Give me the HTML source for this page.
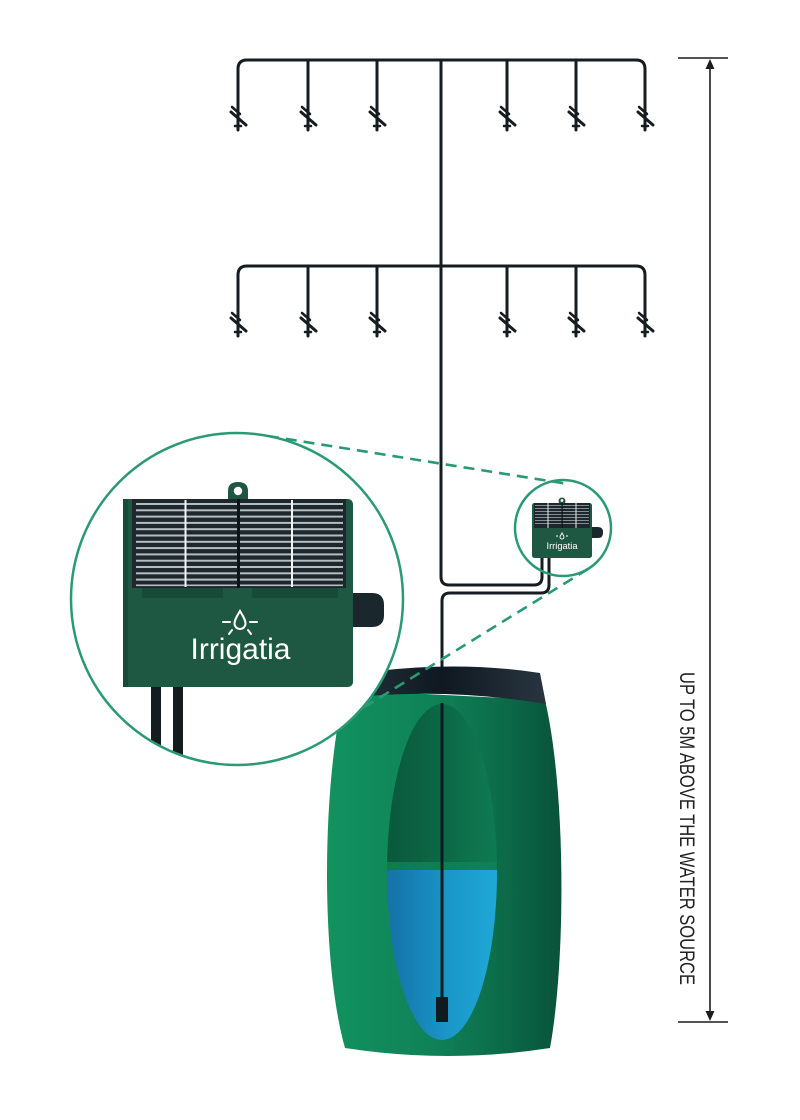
<!DOCTYPE html>
<html>
<head>
<meta charset="utf-8">
<style>
  html,body{margin:0;padding:0;background:#ffffff;}
  body{width:800px;height:1120px;overflow:hidden;}
  svg{display:block;}
</style>
</head>
<body>
<svg width="800" height="1120" viewBox="0 0 800 1120" xmlns="http://www.w3.org/2000/svg">
  <defs>
    <linearGradient id="barrelG" x1="0" y1="0" x2="1" y2="0">
      <stop offset="0" stop-color="#12925f"/>
      <stop offset="0.45" stop-color="#0f8258"/>
      <stop offset="0.75" stop-color="#0c6b49"/>
      <stop offset="1" stop-color="#09523a"/>
    </linearGradient>
    <linearGradient id="innerG" x1="0" y1="0" x2="1" y2="0">
      <stop offset="0" stop-color="#0a573c"/>
      <stop offset="0.5" stop-color="#0c6947"/>
      <stop offset="1" stop-color="#0f7f56"/>
    </linearGradient>
    <linearGradient id="waterG" x1="0" y1="0" x2="1" y2="0">
      <stop offset="0" stop-color="#146ea4"/>
      <stop offset="0.55" stop-color="#1a98c9"/>
      <stop offset="1" stop-color="#21acd9"/>
    </linearGradient>
    <linearGradient id="lidG" x1="0" y1="0" x2="1" y2="0">
      <stop offset="0" stop-color="#22303a"/>
      <stop offset="0.45" stop-color="#0f1820"/>
      <stop offset="1" stop-color="#283540"/>
    </linearGradient>
    <clipPath id="ellClip">
      <ellipse cx="442" cy="872" rx="55" ry="168"/>
    </clipPath>
    <clipPath id="bigClip">
      <circle cx="237" cy="599" r="165"/>
    </clipPath>
    <clipPath id="panelClip">
      <rect x="132" y="499" width="214" height="89"/>
    </clipPath>
  </defs>

  <!-- ===== Manifolds & trunk ===== -->
  <g fill="none" stroke="#161d21" stroke-width="3" stroke-linecap="round">
    <path d="M238,130 L238,69 Q238,60 247,60 L636,60 Q645,60 645,69 L645,130"/>
    <path d="M308,60 L308,130 M377,60 L377,130 M507,60 L507,130 M576,60 L576,130"/>
    <path d="M238,336 L238,275 Q238,266 247,266 L636,266 Q645,266 645,275 L645,336"/>
    <path d="M308,266 L308,336 M377,266 L377,336 M507,266 L507,336 M576,266 L576,336"/>
    <path d="M441,60 L441,577 Q441,585 449,585 L534,585 Q542,585 542,577 L542,556"/>
    <path d="M442,670 L442,601 Q442,593 450,593 L541,593 Q549,593 549,585 L549,556"/>
  </g>

  <!-- sprinkler heads -->
  <g stroke="#161d21" stroke-linecap="round" fill="none">
    <g id="sp">
      <path d="M232,107 L240,114" stroke-width="2.5"/>
      <path d="M231,112 L246,125" stroke-width="3"/>
      <path d="M235,126 L241,126" stroke-width="2.5"/>
    </g>
    <use href="#sp" x="70"/>
    <use href="#sp" x="139"/>
    <use href="#sp" x="269"/>
    <use href="#sp" x="338"/>
    <use href="#sp" x="407"/>
    <use href="#sp" y="206"/>
    <use href="#sp" x="70" y="206"/>
    <use href="#sp" x="139" y="206"/>
    <use href="#sp" x="269" y="206"/>
    <use href="#sp" x="338" y="206"/>
    <use href="#sp" x="407" y="206"/>
  </g>

  <!-- ===== Barrel ===== -->
  <path d="M345,690 C322,780 320,960 345,1048 Q448,1064 550,1048 C566,960 566,790 545,700 Z" fill="url(#barrelG)"/>
  <g clip-path="url(#ellClip)">
    <rect x="380" y="700" width="130" height="172" fill="url(#innerG)"/>
    <rect x="380" y="862" width="130" height="9" fill="#0f8458" opacity="0.8"/>
    <rect x="380" y="870" width="130" height="175" fill="url(#waterG)"/>
  </g>
  <line x1="442" y1="703" x2="442" y2="1000" stroke="#111a20" stroke-width="3"/>
  <rect x="436" y="997" width="12" height="25" fill="#111a20"/>
  <path d="M362,673 Q455,660 540,673 L546,704 Q450,688 356,697 Z" fill="url(#lidG)"/>

  <!-- ===== Dashed connector lines ===== -->
  <g stroke="#2a9a76" stroke-width="2.6" stroke-dasharray="11,7" fill="none">
    <line x1="268" y1="436" x2="568" y2="484"/>
    <line x1="588" y1="569" x2="324" y2="732"/>
  </g>

  <!-- ===== Big zoom circle ===== -->
  <circle cx="237" cy="599" r="166" fill="#ffffff"/>
  <g clip-path="url(#bigClip)">
    <rect x="151" y="680" width="10" height="100" fill="#141c20"/>
    <rect x="173" y="680" width="10" height="100" fill="#141c20"/>
    <path d="M350,593 L372,593 Q384,593 384,605 L384,615 Q384,627 372,627 L350,627 Z" fill="#1a272d"/>
    <path d="M228,502 L228,491 Q228,482 238,482 Q248,482 248,491 L248,502 Z" fill="#1e5642"/>
    <circle cx="238" cy="491" r="4.2" fill="#ffffff"/>
    <rect x="123" y="499" width="230" height="188" rx="5" fill="#1e5842"/>
    <rect x="123" y="499" width="5" height="188" fill="#184a37"/>
    <rect x="142" y="588" width="81" height="10" fill="#174a37"/>
    <rect x="252" y="588" width="86" height="10" fill="#174a37"/>
    <rect x="132" y="499" width="214" height="89" fill="#1d272c"/>
    <g clip-path="url(#panelClip)" fill="#b4bdc2">
      <rect x="136" y="503" width="207" height="2"/>
      <rect x="136" y="509.3" width="207" height="2"/>
      <rect x="136" y="515.6" width="207" height="2"/>
      <rect x="136" y="521.9" width="207" height="2"/>
      <rect x="136" y="528.2" width="207" height="2"/>
      <rect x="136" y="534.5" width="207" height="2"/>
      <rect x="136" y="540.8" width="207" height="2"/>
      <rect x="136" y="547.1" width="207" height="2"/>
      <rect x="136" y="553.4" width="207" height="2"/>
      <rect x="136" y="559.7" width="207" height="2"/>
      <rect x="136" y="566" width="207" height="2"/>
      <rect x="136" y="572.3" width="207" height="2"/>
      <rect x="136" y="578.6" width="207" height="2"/>
      <rect x="136" y="584.5" width="207" height="1.6"/>
    </g>
    <rect x="184.5" y="500" width="2" height="87" fill="#f2f4f5"/>
    <rect x="291" y="500" width="2" height="87" fill="#f2f4f5"/>
    <rect x="237" y="499" width="3" height="89" fill="#0d1418"/>
    <g stroke="#ffffff" stroke-width="2" fill="none" stroke-linecap="round">
      <path d="M240,611 C237,616 234.5,620 234.5,623.5 A5.5,5.5 0 0 0 245.5,623.5 C245.5,620 243,616 240,611 Z"/>
      <path d="M223,622 L230,622 M250,622 L257,622"/>
      <path d="M232,630 L229,634 M248,630 L251,634"/>
    </g>
    <text x="240.5" y="659" text-anchor="middle" font-family="Liberation Sans, sans-serif" font-size="30" fill="#ffffff" textLength="100" lengthAdjust="spacingAndGlyphs">Irrigatia</text>
  </g>
  <circle cx="237" cy="599" r="166" fill="none" stroke="#2a9a76" stroke-width="2.5"/>

  <!-- ===== Small zoom circle ===== -->
  <path d="M590,527 L598,527 Q603,527 603,532 L603,533 Q603,538 598,538 L590,538 Z" fill="#1a272d"/>
  <circle cx="562" cy="501" r="3.5" fill="#1e5642"/>
  <circle cx="562" cy="500.5" r="1.4" fill="#ffffff"/>
  <rect x="532" y="503" width="60" height="55" rx="2.5" fill="#1e5842"/>
  <rect x="534" y="503" width="56" height="25" fill="#1d272c"/>
  <g fill="#8f9aa0">
    <rect x="535" y="505" width="54" height="0.9"/>
    <rect x="535" y="508" width="54" height="0.9"/>
    <rect x="535" y="511" width="54" height="0.9"/>
    <rect x="535" y="514" width="54" height="0.9"/>
    <rect x="535" y="517" width="54" height="0.9"/>
    <rect x="535" y="520" width="54" height="0.9"/>
    <rect x="535" y="523" width="54" height="0.9"/>
  </g>
  <rect x="547.5" y="503" width="1" height="25" fill="#e8ecee"/>
  <rect x="575.5" y="503" width="1" height="25" fill="#e8ecee"/>
  <rect x="561.5" y="503" width="1.2" height="25" fill="#0d1418"/>
  <g stroke="#ffffff" stroke-width="0.9" fill="none">
    <path d="M562,533 C561,535 560,536 560,537 A2,2 0 0 0 564,537 C564,536 563,535 562,533 Z"/>
    <path d="M556,536 L558,536 M566,536 L568,536"/>
  </g>
  <text x="562" y="549" text-anchor="middle" font-family="Liberation Sans, sans-serif" font-size="9.5" fill="#ffffff" textLength="31" lengthAdjust="spacingAndGlyphs">Irrigatia</text>
  <circle cx="563" cy="528" r="48" fill="none" stroke="#2a9a76" stroke-width="2.5"/>

  <!-- ===== Measurement ===== -->
  <g stroke="#1c1c1c" stroke-width="1.6" fill="none">
    <line x1="710" y1="64" x2="710" y2="1016"/>
    <line x1="678" y1="58" x2="728" y2="58"/>
    <line x1="678" y1="1022" x2="728" y2="1022"/>
  </g>
  <path d="M710,59 L714.5,69 L705.5,69 Z" fill="#1c1c1c"/>
  <path d="M710,1021 L714.5,1011 L705.5,1011 Z" fill="#1c1c1c"/>
  <text transform="translate(680,672) rotate(90)" x="0" y="0" font-family="Liberation Sans, sans-serif" font-size="21" fill="#222222" textLength="313" lengthAdjust="spacingAndGlyphs">UP TO 5M ABOVE THE WATER SOURCE</text>
</svg>
</body>
</html>
